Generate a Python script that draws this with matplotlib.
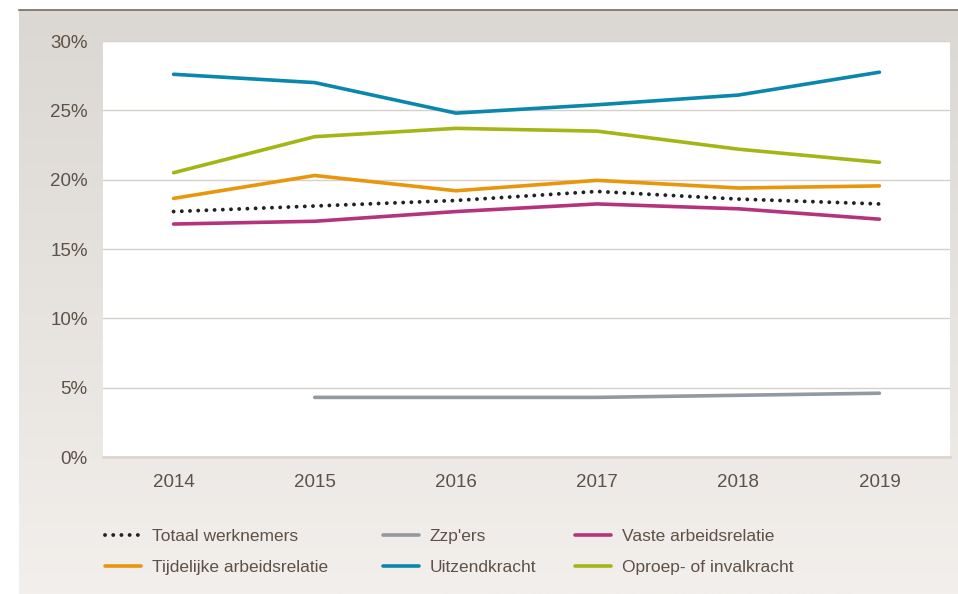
import numpy as np
import matplotlib.pyplot as plt
from matplotlib.colors import LinearSegmentedColormap

years = [2014, 2015, 2016, 2017, 2018, 2019]
totaal = [17.7, 18.1, 18.5, 19.15, 18.6, 18.25]
zzp = [None, 4.3, 4.3, 4.3, 4.45, 4.6]
vaste = [16.8, 17.0, 17.7, 18.25, 17.9, 17.15]
tijdelijk = [18.65, 20.3, 19.2, 19.95, 19.4, 19.55]
uitzend = [27.6, 27.0, 24.8, 25.4, 26.1, 27.75]
oproep = [20.5, 23.1, 23.7, 23.5, 22.2, 21.25]
yticks = [0, 5, 10, 15, 20, 25, 30]

W, H = 958, 594
txt = "#5e5148"
plt.rcParams["font.family"] = ["Liberation Sans", "DejaVu Sans"]

fig = plt.figure(figsize=(W / 100, H / 100), dpi=100)
fig.patch.set_facecolor("white")

# beige panel with a soft vertical gradient
bg = fig.add_axes([19 / W, 0, 1 - 19 / W, 584 / H], zorder=0)
cmap = LinearSegmentedColormap.from_list("bg", ["#f2efec", "#dbd7d2"])
bg.imshow(np.linspace(0, 1, 256).reshape(-1, 1), aspect="auto", cmap=cmap,
          origin="lower", extent=[0, 1, 0, 1])
bg.axis("off")
fig.add_artist(plt.Line2D([19 / W, 1], [584 / H, 584 / H], color="#786b61", lw=1.2))

ax = fig.add_axes([103 / W, (H - 457) / H, (950 - 103) / W, (457 - 41) / H], zorder=1)
ax.set_facecolor("white")

series = [
    ("Totaal werknemers", totaal, "#222222"),
    ("Tijdelijke arbeidsrelatie", tijdelijk, "#e8960c"),
    ("Zzp'ers", zzp, "#939a9f"),
    ("Uitzendkracht", uitzend, "#0a87ad"),
    ("Vaste arbeidsrelatie", vaste, "#b4337c"),
    ("Oproep- of invalkracht", oproep, "#a4b516"),
]
lines = []
for label, vals, col in series:
    v = np.array([np.nan if x is None else x for x in vals], dtype=float)
    if label.startswith("Totaal"):
        ln, = ax.plot(years, v, color=col, lw=2.8, linestyle=(0, (0.01, 2.1)),
                      dash_capstyle="round", label=label, zorder=3)
    else:
        ln, = ax.plot(years, v, color=col, lw=2.6, solid_capstyle="round",
                      label=label, zorder=3)
    lines.append(ln)

ax.set_xlim(2013.5, 2019.5)
ax.set_ylim(0, 30)
ax.set_yticks(yticks)
ax.set_yticklabels([f"{t}%" for t in yticks])
ax.set_xticks(years)
ax.yaxis.grid(True, color="#d6d0ca", lw=1)
ax.set_axisbelow(True)
for s in ["top", "right", "left"]:
    ax.spines[s].set_visible(False)
ax.spines["bottom"].set_color("#ddd6cf")
ax.spines["bottom"].set_linewidth(2)
ax.tick_params(length=0, labelsize=13.5, colors=txt)
ax.tick_params(axis="y", pad=11)
ax.tick_params(axis="x", pad=12)

# legend in three fixed columns
for i, x0 in enumerate([89, 367, 559]):
    pair = lines[2 * i:2 * i + 2]
    leg = fig.legend(pair, [l.get_label() for l in pair], loc="upper left",
                     bbox_to_anchor=(x0 / W, (H - 513) / H), frameon=False,
                     fontsize=12.5, handlelength=2.1, handletextpad=0.6,
                     labelspacing=0.95, labelcolor=txt)

fig.savefig("out.png", dpi=100)
